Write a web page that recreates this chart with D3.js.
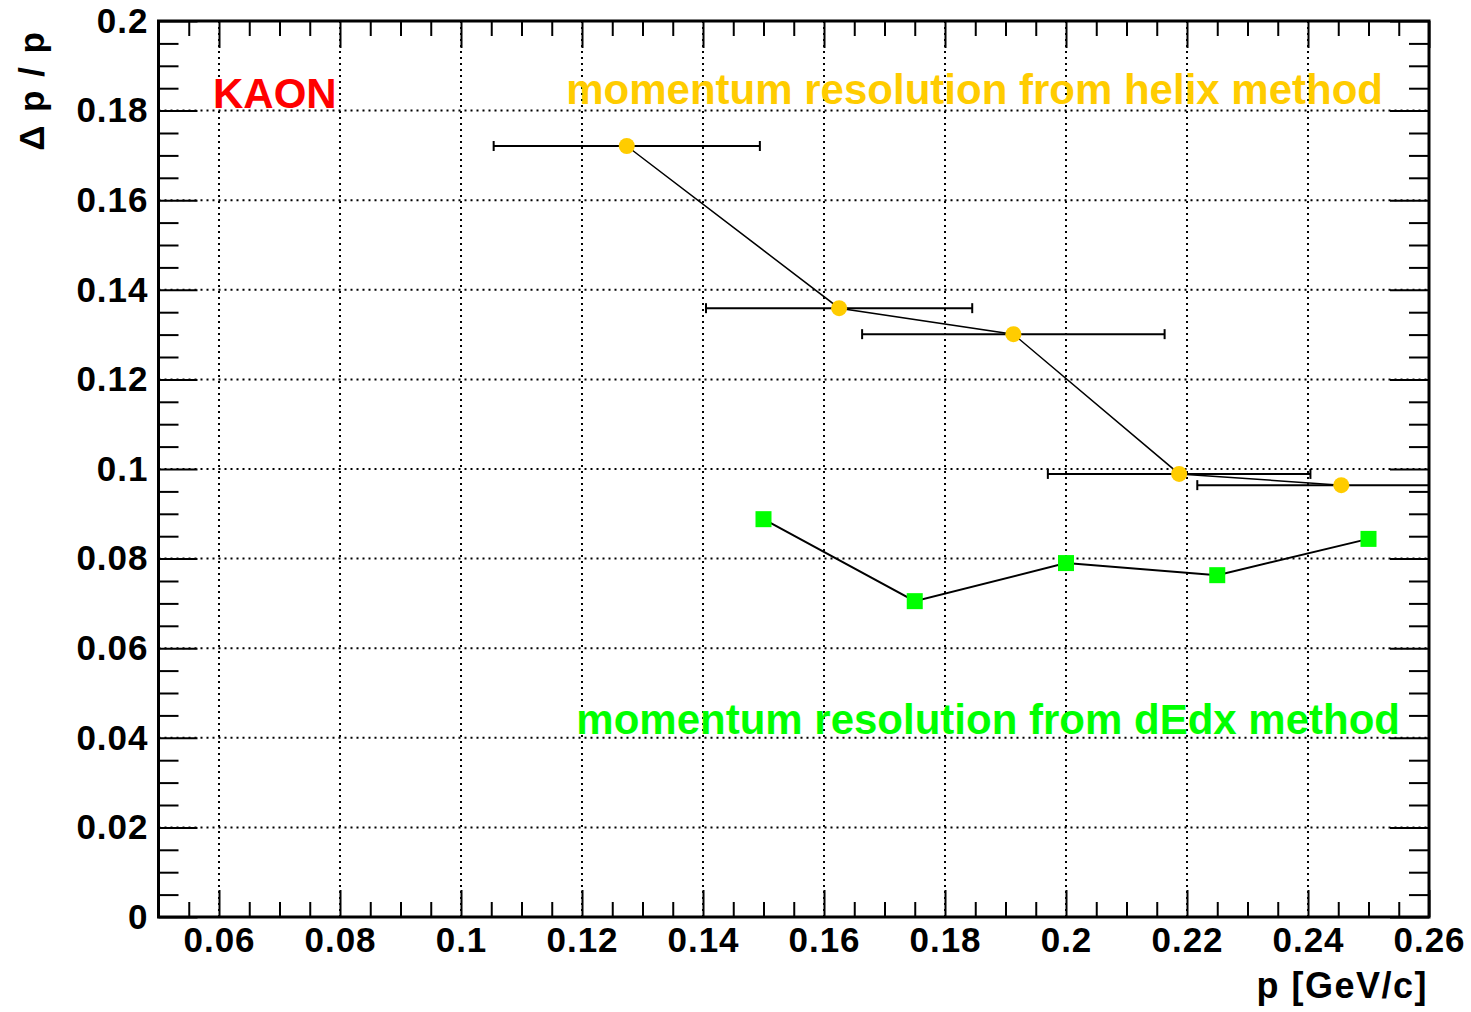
<!DOCTYPE html>
<html>
<head>
<meta charset="utf-8">
<script src="https://cdn.jsdelivr.net/npm/d3@7"></script>
<style>
  body { margin: 0; background: #fff; }
  svg text { font-family: "Liberation Sans", Arial, sans-serif; font-weight: bold; }
</style>
</head>
<body>
<svg id="chart" width="1471" height="1012"></svg>
<script>
// helix method (orange circles with horizontal error bars)
var helixP = [0.1274, 0.1625, 0.1913, 0.2187, 0.2455];
var helixRes = [0.1721, 0.1359, 0.1301, 0.0989, 0.0964];
var helixErr = [0.022, 0.022, 0.025, 0.0217, 0.0238];

// dEdx method (green squares)
var dedxP = [0.15, 0.175, 0.2, 0.225, 0.25];
var dedxRes = [0.0888, 0.0705, 0.079, 0.0763, 0.0844];

var xTicks = [0.06, 0.08, 0.1, 0.12, 0.14, 0.16, 0.18, 0.2, 0.22, 0.24, 0.26];
var xTickLabels = ["0.06", "0.08", "0.1", "0.12", "0.14", "0.16", "0.18", "0.2", "0.22", "0.24", "0.26"];
var yTicks = [0, 0.02, 0.04, 0.06, 0.08, 0.1, 0.12, 0.14, 0.16, 0.18, 0.2];
var yTickLabels = ["0", "0.02", "0.04", "0.06", "0.08", "0.1", "0.12", "0.14", "0.16", "0.18", "0.2"];

var orange = "#ffcc00";
var green = "#00ff00";

function drawChart(){
	var svg = d3.select("#chart");
	var padL = 158.5, padR = 1429, padT = 21, padB = 917;

	var x = d3.scaleLinear().domain([0.05, 0.26]).range([padL, padR]);
	var y = d3.scaleLinear().domain([0, 0.2]).range([padB, padT]);

	var xMinor = d3.range(0.055, 0.2601, 0.005).filter(function(v){ return Math.abs(Math.round(v / 0.02) * 0.02 - v) > 1e-6; });
	var yMinor = d3.range(0.005, 0.2001, 0.005).filter(function(v){ return Math.abs(Math.round(v / 0.02) * 0.02 - v) > 1e-6; });

	svg.append("defs").append("clipPath")
		.attr("id", "frameclip")
		.append("rect")
		.attr("x", padL).attr("y", padT)
		.attr("width", padR - padL).attr("height", padB - padT);

	// dotted grid
	var grid = svg.append("g").attr("stroke", "#000").attr("stroke-width", 2).attr("stroke-dasharray", "2,4");
	grid.selectAll(".gx").data(xTicks.filter(function(d){ return d < 0.26; }))
		.enter().append("line")
		.attr("x1", function(d){ return x(d); }).attr("x2", function(d){ return x(d); })
		.attr("y1", padT).attr("y2", padB);
	grid.selectAll(".gy").data(yTicks.filter(function(d){ return d > 0 && d < 0.2; }))
		.enter().append("line")
		.attr("x1", padL).attr("x2", padR)
		.attr("y1", function(d){ return y(d); }).attr("y2", function(d){ return y(d); });

	// axes with ticks pointing inside
	function styleAxis(g){
		g.select(".domain").remove();
		g.selectAll("line").attr("stroke", "#000").attr("stroke-width", 2);
		g.selectAll("text").attr("font-size", 35).attr("letter-spacing", 1).attr("fill", "#000");
	}

	svg.append("g").attr("transform", "translate(0," + padB + ")")
		.call(d3.axisBottom(x).tickValues(xTicks).tickSize(-27).tickPadding(10)
			.tickFormat(function(d, i){ return xTickLabels[i]; }))
		.call(styleAxis);
	svg.append("g").attr("transform", "translate(0," + padB + ")")
		.call(d3.axisBottom(x).tickValues(xMinor).tickSize(-15).tickFormat(""))
		.call(styleAxis);
	svg.append("g").attr("transform", "translate(0," + padT + ")")
		.call(d3.axisTop(x).tickValues(xTicks).tickSize(-27).tickFormat(""))
		.call(styleAxis);
	svg.append("g").attr("transform", "translate(0," + padT + ")")
		.call(d3.axisTop(x).tickValues(xMinor).tickSize(-15).tickFormat(""))
		.call(styleAxis);

	svg.append("g").attr("transform", "translate(" + padL + ",0)")
		.call(d3.axisLeft(y).tickValues(yTicks).tickSize(-39).tickPadding(10)
			.tickFormat(function(d, i){ return yTickLabels[i]; }))
		.call(styleAxis);
	svg.append("g").attr("transform", "translate(" + padL + ",0)")
		.call(d3.axisLeft(y).tickValues(yMinor).tickSize(-20).tickFormat(""))
		.call(styleAxis);
	svg.append("g").attr("transform", "translate(" + padR + ",0)")
		.call(d3.axisRight(y).tickValues(yTicks).tickSize(-39).tickFormat(""))
		.call(styleAxis);
	svg.append("g").attr("transform", "translate(" + padR + ",0)")
		.call(d3.axisRight(y).tickValues(yMinor).tickSize(-20).tickFormat(""))
		.call(styleAxis);

	// frame
	svg.append("rect")
		.attr("x", padL).attr("y", padT)
		.attr("width", padR - padL).attr("height", padB - padT)
		.attr("fill", "none").attr("stroke", "#000").attr("stroke-width", 3);

	var plot = svg.append("g").attr("clip-path", "url(#frameclip)");

	var line = d3.line()
		.x(function(d){ return x(d[0]); })
		.y(function(d){ return y(d[1]); });

	// helix error bars
	var helixData = helixP.map(function(p, i){ return [p, helixRes[i], helixErr[i]]; });
	var eb = plot.append("g").attr("stroke", "#000").attr("stroke-width", 2);
	helixData.forEach(function(d){
		eb.append("line")
			.attr("x1", x(d[0] - d[2])).attr("x2", x(d[0] + d[2]))
			.attr("y1", y(d[1])).attr("y2", y(d[1]));
		[d[0] - d[2], d[0] + d[2]].forEach(function(e){
			eb.append("line")
				.attr("x1", x(e)).attr("x2", x(e))
				.attr("y1", y(d[1]) - 5).attr("y2", y(d[1]) + 5);
		});
	});

	plot.append("path")
		.datum(helixData)
		.attr("fill", "none").attr("stroke", "#000").attr("stroke-width", 1.5)
		.attr("d", line);

	plot.selectAll(".helix").data(helixData)
		.enter().append("circle")
		.attr("cx", function(d){ return x(d[0]); })
		.attr("cy", function(d){ return y(d[1]); })
		.attr("r", 8)
		.attr("fill", orange);

	var dedxData = dedxP.map(function(p, i){ return [p, dedxRes[i]]; });
	plot.append("path")
		.datum(dedxData)
		.attr("fill", "none").attr("stroke", "#000").attr("stroke-width", 2)
		.attr("d", line);

	plot.selectAll(".dedx").data(dedxData)
		.enter().append("rect")
		.attr("x", function(d){ return x(d[0]) - 8; })
		.attr("y", function(d){ return y(d[1]) - 8; })
		.attr("width", 16).attr("height", 16)
		.attr("fill", green);

	// labels
	svg.append("text")
		.attr("x", 213).attr("y", 108)
		.attr("font-size", 42).attr("fill", "#ff0000")
		.text("KAON");

	svg.append("text")
		.attr("x", 1383).attr("y", 104)
		.attr("text-anchor", "end")
		.attr("font-size", 42).attr("fill", orange)
		.text("momentum resolution from helix method");

	svg.append("text")
		.attr("x", 1400).attr("y", 734)
		.attr("text-anchor", "end")
		.attr("font-size", 42).attr("fill", green)
		.text("momentum resolution from dEdx method");

	svg.append("text")
		.attr("x", 1428).attr("y", 998)
		.attr("text-anchor", "end")
		.attr("font-size", 36).attr("letter-spacing", 1.5).attr("fill", "#000")
		.text("p [GeV/c]");

	svg.append("text")
		.attr("transform", "translate(44,30) rotate(-90)")
		.attr("text-anchor", "end")
		.attr("font-size", 35).attr("letter-spacing", 2).attr("fill", "#000")
		.text("Δ p / p");
}

drawChart();
</script>
</body>
</html>
